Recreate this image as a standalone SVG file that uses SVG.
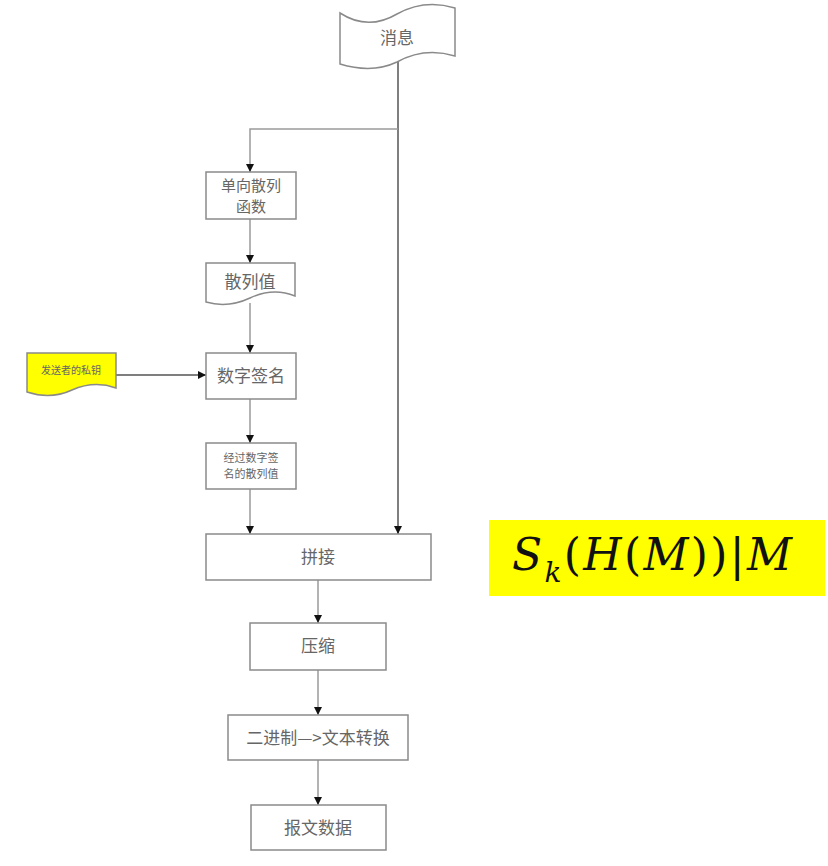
<svg xmlns="http://www.w3.org/2000/svg" width="828" height="866" viewBox="0 0 828 866">
<style>
.box{fill:#fff;stroke:#8a8a8a;stroke-width:1.5}
.t{font-family:"Noto Sans CJK SC","Liberation Serif",serif;fill:#666;text-anchor:middle}
.c{fill:none;stroke:#9a9a9a;stroke-width:1.5}
.cd{fill:none;stroke:#555;stroke-width:1.5}
</style>
<defs>
<marker id="ah" viewBox="0 0 10 10" refX="10" refY="5" markerWidth="8" markerHeight="8" markerUnits="userSpaceOnUse" orient="auto">
<path d="M0,0 L10,5 L0,10 z" fill="#111"/>
</marker>
</defs>
<rect width="828" height="866" fill="#fff"/>
<g id="connectors">
<path class="cd" d="M398,60 V534" marker-end="url(#ah)"/>
<path class="c" d="M398,129 H250 V172" marker-end="url(#ah)"/>
<path class="c" d="M250,219 V263" marker-end="url(#ah)"/>
<path class="c" d="M250,303 V353" marker-end="url(#ah)"/>
<path class="cd" d="M116,375 H206" marker-end="url(#ah)"/>
<path class="c" d="M250,399 V443" marker-end="url(#ah)"/>
<path class="c" d="M250,489 V534" marker-end="url(#ah)"/>
<path class="c" d="M318,580 V623" marker-end="url(#ah)"/>
<path class="c" d="M318,670 V715" marker-end="url(#ah)"/>
<path class="c" d="M318,760 V805" marker-end="url(#ah)"/>
</g>
<g id="msg">
<path class="box" d="M340,13 C360,26 380,24 397,14 C415,4 435,2 455,8 V56 C435,50 415,52 397,62 C380,70 360,70 340,64 Z"/>
<text class="t" x="397" y="44" font-size="17">消息</text>
</g>
<g id="hashfn">
<rect class="box" x="206" y="172" width="90" height="47"/>
<text class="t" x="251" y="191" font-size="15">单向散列</text>
<text class="t" x="251" y="212" font-size="15">函数</text>
</g>
<g id="hashval">
<path class="box" d="M206,263 H295 V296 C280,290 265,291 250,298 C235,305 220,306 206,302 Z"/>
<text class="t" x="250" y="288" font-size="17">散列值</text>
</g>
<g id="privkey">
<path d="M27,353 H116 V388 C102,383 88,383 72,390 C57,397 42,397 27,392 Z" fill="#ffff00" stroke="#8a8a8a" stroke-width="1.5"/>
<text class="t" x="71" y="374" font-size="10" fill="#555">发送者的私钥</text>
</g>
<g id="sign">
<rect class="box" x="206" y="353" width="90" height="46"/>
<text class="t" x="251" y="382" font-size="17">数字签名</text>
</g>
<g id="signedhash">
<rect class="box" x="206" y="443" width="90" height="46"/>
<text class="t" x="251" y="462" font-size="11">经过数字签</text>
<text class="t" x="251" y="478" font-size="11">名的散列值</text>
</g>
<g id="concat">
<rect class="box" x="206" y="534" width="225" height="46"/>
<text class="t" x="318" y="563" font-size="17">拼接</text>
</g>
<g id="compress">
<rect class="box" x="250" y="623" width="136" height="47"/>
<text class="t" x="318" y="652" font-size="17">压缩</text>
</g>
<g id="convert">
<rect class="box" x="228" y="715" width="180" height="45"/>
<text class="t" x="318" y="744" font-size="17">二进制—&gt;文本转换</text>
</g>
<g id="msgdata">
<rect class="box" x="251" y="805" width="135" height="45"/>
<text class="t" x="318" y="834" font-size="17">报文数据</text>
</g>
<g id="formula">
<rect x="489" y="520" width="336" height="76" fill="#ffff00"/>
<text x="512" y="570" font-family="'DejaVu Serif',serif" font-style="italic" font-size="44" fill="#111" textLength="280" lengthAdjust="spacing">S<tspan font-size="28" dy="12">k</tspan><tspan dy="-12" font-style="normal">(</tspan>H<tspan font-style="normal">(</tspan>M<tspan font-style="normal">))|</tspan>M</text>
</g>
</svg>
